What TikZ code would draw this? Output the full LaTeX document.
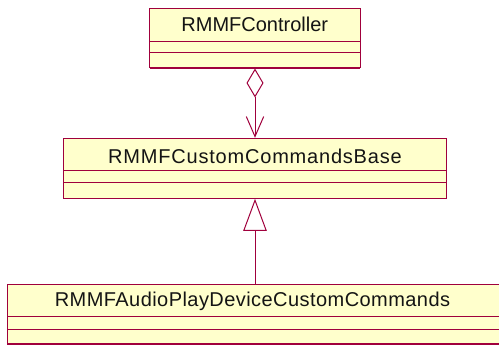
\documentclass[tikz,border=0pt]{standalone}
\usepackage{fontspec}
\setmainfont{Liberation Sans}
\usetikzlibrary{arrows.meta}
\definecolor{umlborder}{RGB}{160,0,60}
\definecolor{umlfill}{RGB}{255,255,204}
\definecolor{umltext}{RGB}{20,20,20}
\tikzset{
  classbox/.style={draw=umlborder, fill=umlfill, line width=1pt, inner sep=0pt, rectangle},
  classname/.style={font=\fontsize{20}{24}\selectfont, text=umltext, inner sep=0pt},
  divider/.style={draw=umlborder, line width=0.9pt},
  baseline/.style={draw=umlborder, line width=2.2pt},
  assoc/.style={draw=umlborder, line width=1pt,
    {Diamond[open, length=29pt, width=17pt]}-{Straight Barb[length=20pt, width=17.4pt]}},
  inherit/.style={draw=umlborder, line width=1pt,
    -{Triangle[open, length=32pt, width=23.4pt]}}
}
\begin{document}
\begin{tikzpicture}[x=1pt, y=-1pt]
\useasboundingbox (0,0) rectangle (499,347);
\begin{scope}
\clip (0,0) rectangle (499,347);

% RMMFController
\node[classbox, minimum width=210.5pt, minimum height=59pt] (ctrl) at (254.75,38.5) {};
\node[classname] (ctrlname) at (254.75,24.5) {RMMFController};
\draw[divider] (149.5,41.5) -- (360,41.5);
\draw[divider] (149.5,52.5) -- (360,52.5);
\draw[baseline] (149.5,68) -- (360,68);

% RMMFCustomCommandsBase
\node[classbox, minimum width=383.4pt, minimum height=60pt] (base) at (255,168.3) {};
\node[classname] (basename) at (255,156) {\addfontfeatures{LetterSpace=4}RMMFCustomCommandsBase};
\draw[divider] (63.3,170.3) -- (446.7,170.3);
\draw[divider] (63.3,182.3) -- (446.7,182.3);

% RMMFAudioPlayDeviceCustomCommands
\node[classbox, minimum width=492.7pt, minimum height=60pt] (dev) at (253.65,314.3) {};
\node[classname] (devname) at (252.5,301.7) {\addfontfeatures{LetterSpace=2.2}RMMFAudioPlayDeviceCustomCommands};
\draw[divider] (7.3,316.7) -- (500,316.7);
\draw[divider] (7.3,329.3) -- (500,329.3);
\draw[baseline] (7.3,344.3) -- (500,344.3);

% relations
\draw[assoc] (ctrl.south -| 255,0) -- (base.north -| 255,0);
\draw[inherit] (dev.north -| 255,0) -- (base.south -| 255,0);
\end{scope}
\end{tikzpicture}
\end{document}
